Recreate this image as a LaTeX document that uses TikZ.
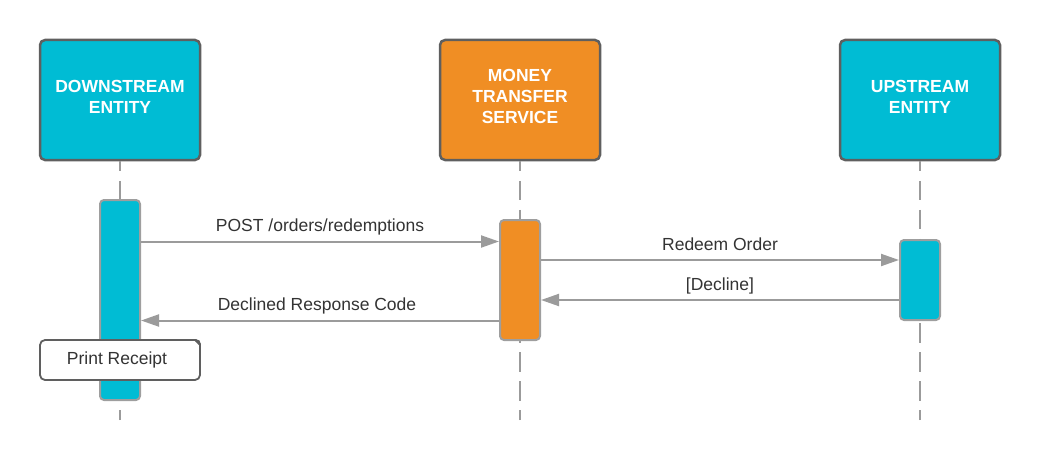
\documentclass[tikz,border=0pt]{standalone}
\usepackage{fontspec}
\setmainfont{Liberation Sans}
\usetikzlibrary{arrows.meta,calc}
\definecolor{cyanbox}{RGB}{0,188,212}
\definecolor{orangebox}{RGB}{240,142,36}
\definecolor{hdrborder}{RGB}{95,95,95}
\definecolor{actborder}{RGB}{158,158,158}
\definecolor{linegray}{RGB}{155,155,155}
\definecolor{txt}{RGB}{51,51,51}
\begin{document}
\begin{tikzpicture}[x=1pt,y=-1pt,
  every node/.style={font=\fontsize{17.5}{21}\selectfont, text=txt},
  header/.style={draw=hdrborder, line width=2.5pt, rounded corners=5pt,
    minimum width=160pt, minimum height=120pt, inner sep=0pt, align=center,
    text=white, font=\fontsize{17.5}{21}\selectfont\bfseries, text depth=7pt},
  actbox/.style={draw=actborder, line width=2pt, rounded corners=4pt,
    minimum width=40pt, inner sep=0pt},
  lifeline/.style={draw=linegray, line width=2pt, dash pattern=on 19.5pt off 9.5pt, dash phase=9.5pt},
  msg/.style={draw=linegray, line width=2pt, -{Triangle[length=18pt,width=12pt]}},
  msglabel/.style={midway, anchor=base, yshift=10pt, inner sep=0pt},
  notebox/.style={draw=hdrborder, line width=1.8pt, rounded corners=5pt, fill=white,
    minimum width=160pt, minimum height=40pt, inner sep=0pt}
]
\useasboundingbox (0,0) rectangle (1040,460);

% headers
\node[header, fill=cyanbox] (ds) at (120,100) {DOWNSTREAM\\ENTITY};
\node[header, fill=orangebox] (mts) at (520,100) {MONEY\\TRANSFER\\SERVICE};
\node[header, fill=cyanbox] (us) at (920,100) {UPSTREAM\\ENTITY};

% activations
\node[actbox, fill=cyanbox, minimum height=200pt] (a1) at (120,300) {};
\node[actbox, fill=orangebox, minimum height=120pt] (a2) at (520,280) {};
\node[actbox, fill=cyanbox, minimum height=80pt] (a3) at (920,280) {};

% lifelines
\coordinate (dsend) at (120,420);
\coordinate (mtsend) at (520,420);
\coordinate (usend) at (920,420);
\draw[lifeline] (ds.south) -- (a1.north);
\draw[lifeline] (mts.south) -- (a2.north);
\draw[lifeline] (us.south) -- (a3.north);
\draw[lifeline] (dsend) -- (a1.south);
\draw[lifeline] (mtsend) -- (a2.south);
\draw[lifeline] (usend) -- (a3.south);

% messages
\coordinate (m1) at ([yshift=38.5pt]a2.west);
\draw[msg] (a1.east |- m1) -- (m1) node[msglabel] {POST /orders/redemptions};

\coordinate (m2) at ([yshift=20pt]a3.west);
\draw[msg] (a2.east |- m2) -- (m2) node[msglabel] {Redeem Order};

\coordinate (m3) at ([yshift=-20pt]a3.west);
\draw[msg] (m3) -- (a2.east |- m3) node[msglabel] {[Decline]};

\coordinate (m4) at ([yshift=-40.5pt]a2.west);
\draw[msg] (m4) -- (a1.east |- m4) node[msglabel, xshift=-3pt] {Declined Response Code};

% note
\node[notebox] (nt) at (120,360) {Print Receipt\hspace*{6pt}};
\fill[hdrborder] ([xshift=-8pt]nt.north east) [rounded corners=5pt] -- (nt.north east) [sharp corners] -- ([yshift=-8pt]nt.north east) -- cycle;
\end{tikzpicture}
\end{document}
